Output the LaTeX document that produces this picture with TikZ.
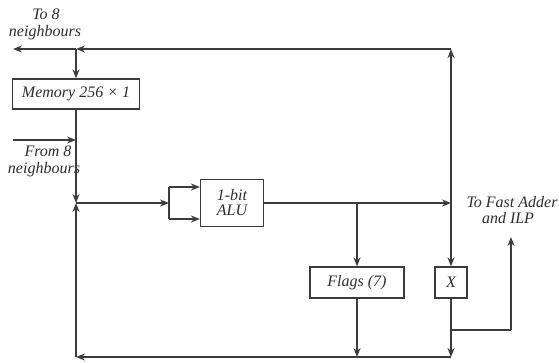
\documentclass[tikz,border=0pt]{standalone}
\usepackage{fontspec}
\setmainfont{Liberation Serif}
\usetikzlibrary{arrows.meta}
\definecolor{lc}{HTML}{3C3C3C}
\definecolor{tc}{HTML}{2E2E2E}
\tikzset{
  box/.style={draw=lc, line width=1.2pt, rectangle, inner sep=0pt, font=\fontsize{16}{17}\selectfont\itshape, text=tc},
  lbl/.style={font=\fontsize{16}{17}\selectfont\itshape, text=tc, inner sep=0pt, anchor=base},
  wire/.style={draw=lc, line width=1.5pt},
  arr/.style={wire, -{Stealth[length=9pt,width=7pt]}}
}
\begin{document}
\begin{tikzpicture}[x=1pt,y=-1pt]
\useasboundingbox[fill=white] (0,0) rectangle (559,362);
% boxes
\node[box, minimum width=127pt, minimum height=30pt] (mem) at (76,94) {Memory 256 × 1};
\node[box, minimum width=63pt, minimum height=47pt, align=center, font=\fontsize{16}{15}\selectfont\itshape] (alu) at (232,203) {1-bit\\ALU};
\node[box, minimum width=94pt, minimum height=31pt] (flags) at (357,282.5) {Flags (7)};
\node[box, minimum width=32pt, minimum height=31pt] (xbox) at (451,282.5) {X};
% labels
\node[lbl] (tolabA) at (46,19) {To 8};
\node[lbl] (tolabB) at (45,36) {neighbours};
\node[lbl] (fromlabA) at (48,156) {From 8};
\node[lbl] (fromlabB) at (44,173) {neighbours};
\node[lbl] (falabA) at (512,207) {To Fast Adder};
\node[lbl] (falabB) at (508,223) {and ILP};
% coordinates
\coordinate (topR) at (451,49);
\coordinate (topJ) at (76,49);
\coordinate (topL) at (13,49);
\coordinate (fromL) at (13,140);
\coordinate (fromJ) at (76,140);
\coordinate (J) at (76,203);
\coordinate (fork) at (169,203);
\coordinate (forkT) at (169,187);
\coordinate (forkB) at (169,219);
\coordinate (br) at (357,203);
\coordinate (R) at (451,203);
\coordinate (xb) at (451,330);
\coordinate (fa) at (511,330);
\coordinate (faT) at (511,237);
\coordinate (botR) at (451,357);
\coordinate (botF) at (357,357);
\coordinate (botL) at (76,357);
% connectors
\draw[arr] (R) -- (topR);
\draw[arr] (topR) -- (topJ);
\draw[arr] (topJ) -- (topL);
\draw[arr] (topJ) -- (mem.north);
\draw[arr] (mem.south) -- (J);
\draw[arr] (fromL) -- (fromJ);
\draw[arr] (J) -- (fork);
\draw[wire] (forkT) -- (forkB);
\draw[arr] (forkT) -- (alu.west |- forkT);
\draw[arr] (forkB) -- (alu.west |- forkB);
\draw[arr] (alu.east) -- (R);
\draw[arr] (br) -- (flags.north);
\draw[arr] (R) -- (xbox.north);
\draw[arr] (flags.south) -- (botF);
\draw[arr] (xbox.south) -- (botR);
\draw[wire] (xb) -- (fa);
\draw[arr] (fa) -- (faT);
\draw[arr] (botR) -- (botL);
\draw[arr] (botL) -- (J);
\end{tikzpicture}
\end{document}
